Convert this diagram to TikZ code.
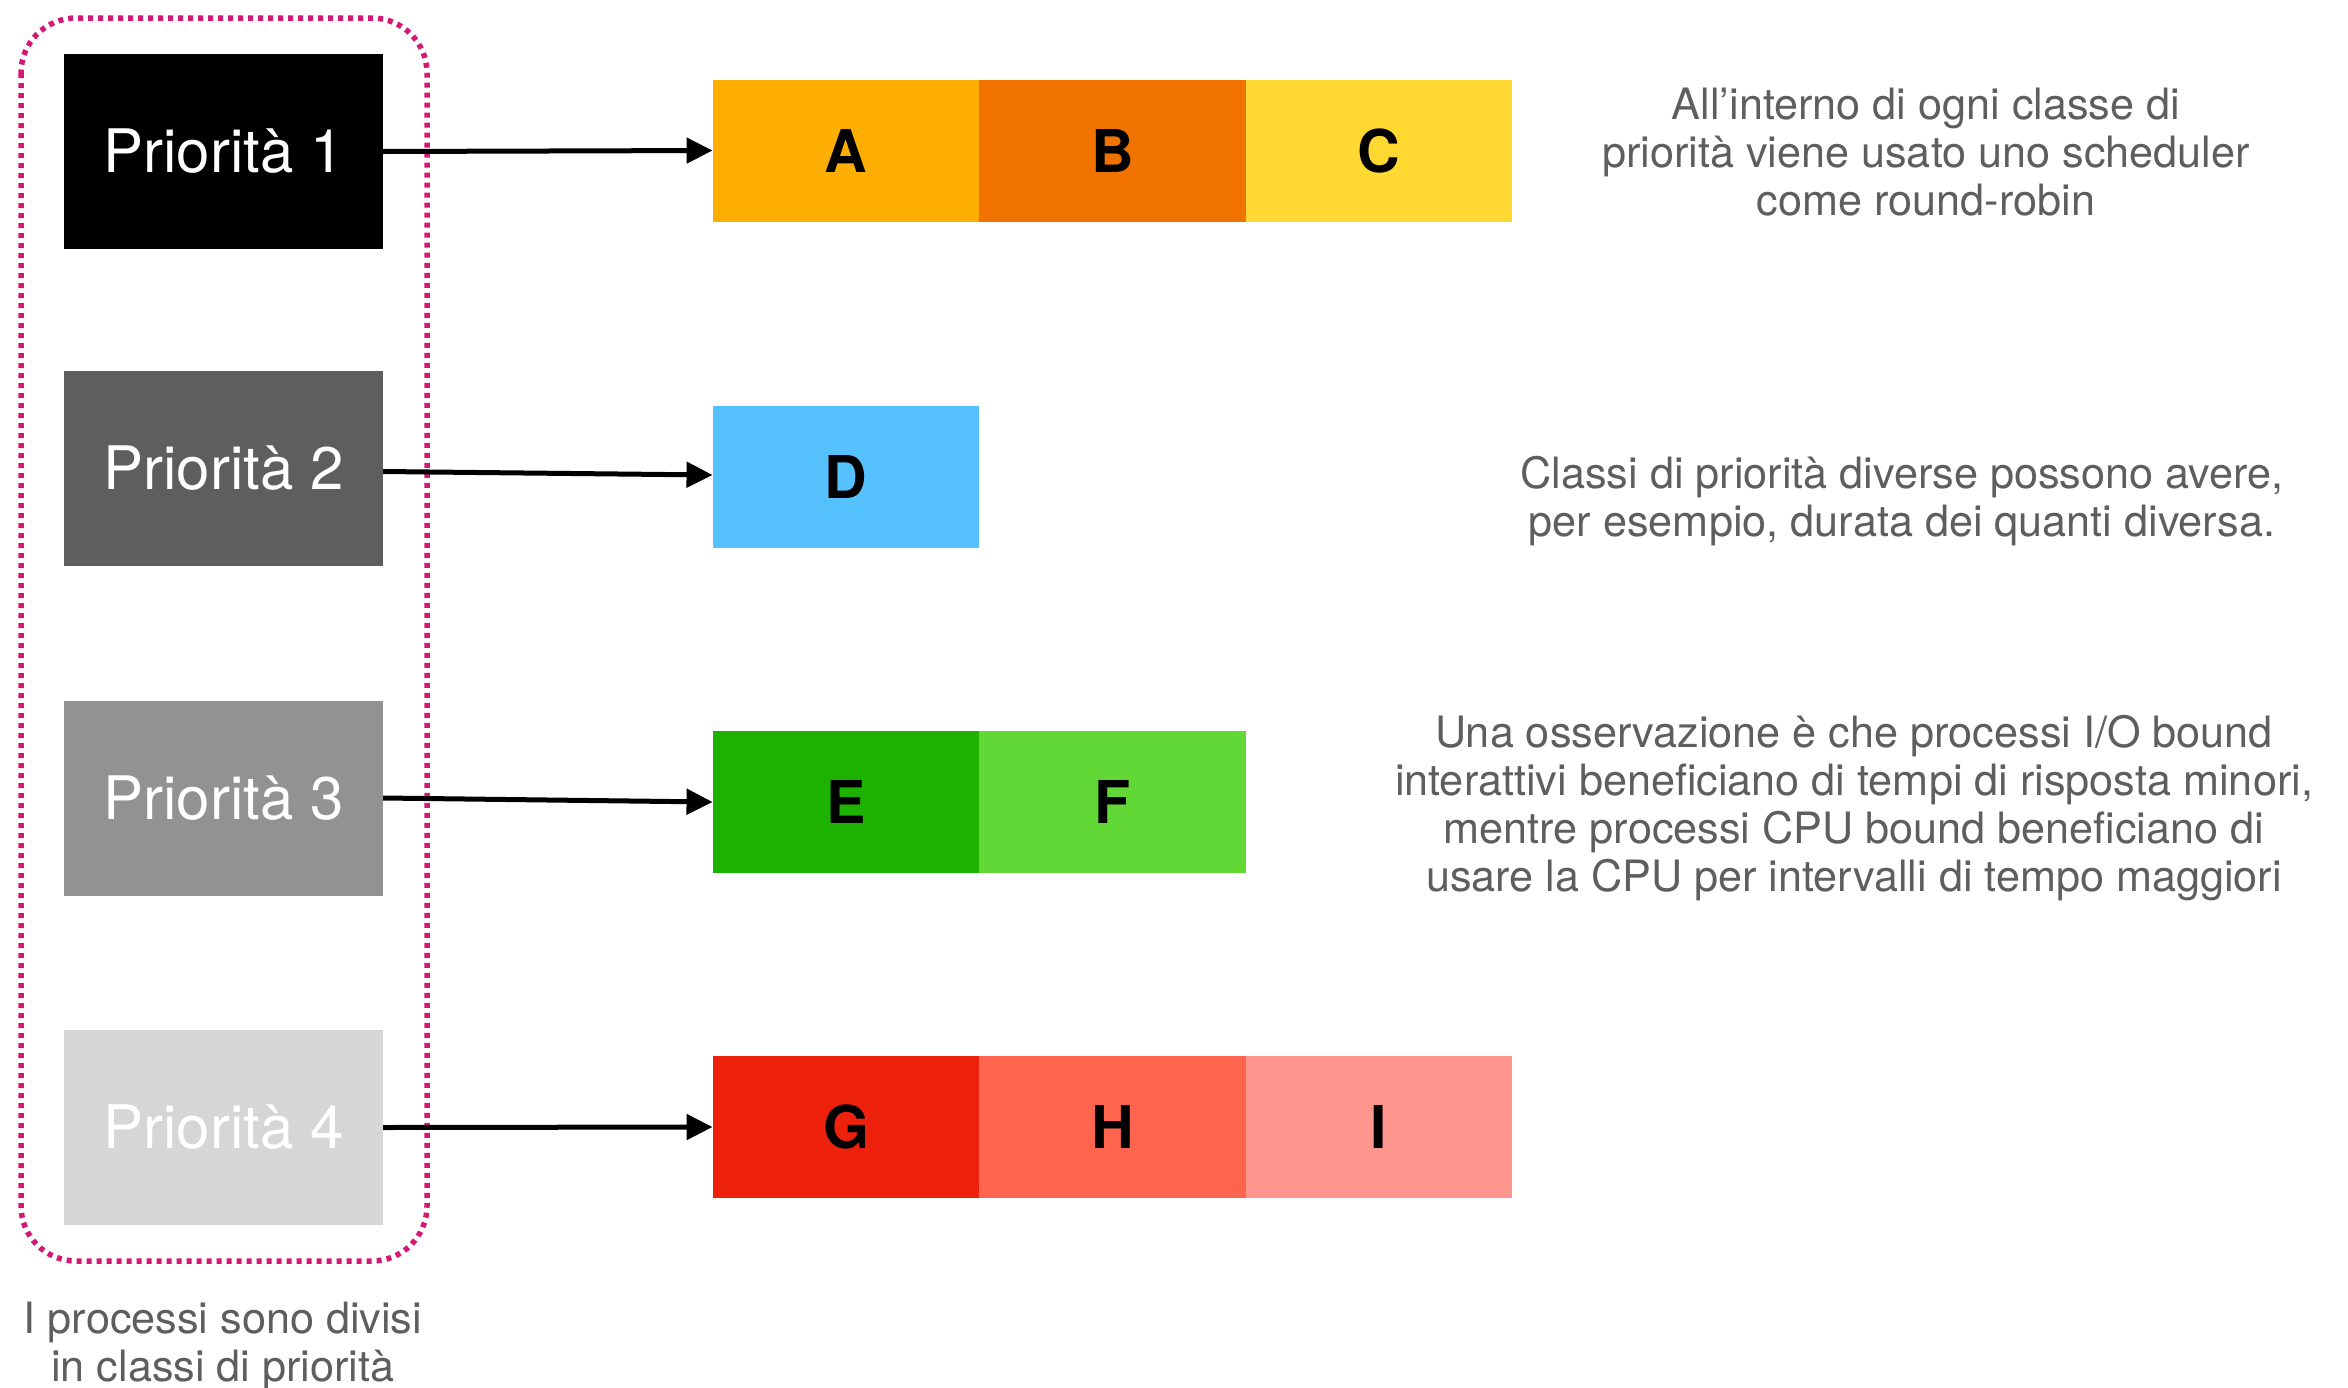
\documentclass[tikz,border=0pt]{standalone}
\usepackage{fontspec}
\setmainfont{TeX Gyre Heros}
\usetikzlibrary{arrows.meta}
\definecolor{pgray}{HTML}{5E5E5E}
\definecolor{pgrayb}{HTML}{929292}
\definecolor{pgrayc}{HTML}{D6D6D6}
\definecolor{cA}{HTML}{FEAE00}
\definecolor{cB}{HTML}{F07300}
\definecolor{cC}{HTML}{FFD831}
\definecolor{cD}{HTML}{56C1FF}
\definecolor{cE}{HTML}{1DB100}
\definecolor{cF}{HTML}{61D836}
\definecolor{cG}{HTML}{EE220C}
\definecolor{cH}{HTML}{FF644E}
\definecolor{cI}{HTML}{FF968D}
\definecolor{magentadot}{HTML}{D41876}
\definecolor{txtgray}{HTML}{5E5E5E}
\tikzset{
  prio/.style={minimum width=319pt, minimum height=195pt, inner sep=0pt, text=white,
    font=\fontsize{60}{63}\selectfont},
  cell/.style={minimum width=266.5pt, minimum height=142pt, inner sep=0pt, text=black,
    font=\fontsize{59}{62}\selectfont\bfseries},
  conn/.style={line width=5pt, -{Triangle[length=26pt,width=25pt]}},
  note/.style={align=center, text=txtgray, inner sep=0pt, font=\fontsize{43.2}{48}\selectfont},
  grp/.style={draw=magentadot, line width=5.5pt, dash pattern=on 5pt off 5pt, rounded corners=55pt}
}
\begin{document}
\begin{tikzpicture}[x=1pt,y=-1pt]
\useasboundingbox (0,0) rectangle (2348,1387);
% group
\draw[grp] (21,18) rectangle (427,1261);
% priority boxes
\node[prio, fill=black] (b1) at (223.5,151.5) {Priorità 1};
\node[prio, fill=pgray] (b2) at (223.5,468.5) {Priorità 2};
\node[prio, fill=pgrayb] (b3) at (223.5,798) {Priorità 3};
\node[prio, fill=pgrayc] (b4) at (223.5,1127.5) {Priorità 4};
% queues
\node[cell, fill=cA] (A) at (846,150.5) {A};
\node[cell, fill=cB] (B) at (1112.5,150.5) {B};
\node[cell, fill=cC] (C) at (1379,150.5) {C};
\node[cell, fill=cD] (D) at (846,477) {D};
\node[cell, fill=cE] (E) at (846,802) {E};
\node[cell, fill=cF] (F) at (1112.5,802) {F};
\node[cell, fill=cG] (G) at (846,1127) {G};
\node[cell, fill=cH] (H) at (1112.5,1127) {H};
\node[cell, fill=cI] (I) at (1379,1127) {I};
% connectors
\draw[conn] (b1.east) -- (A.west);
\draw[conn] ([yshift=-3pt]b2.east) -- ([yshift=2pt]D.west);
\draw[conn] (b3.east) -- (E.west);
\draw[conn] (b4.east) -- (G.west);
% notes
\node[note] (n1) at (1926,152) {All’interno di ogni classe di\\priorità viene usato uno scheduler\\come round-robin};
\node[note] (n2) at (1902,501) {Classi di priorità diverse possono avere,\\per esempio, durata dei quanti diversa.};
\node[note] (n3) at (1854,808) {Una osservazione è che processi I/O bound\\interattivi beneficiano di tempi di risposta minori,\\mentre processi CPU bound beneficiano di\\usare la CPU per intervalli di tempo maggiori};
\node[note] (n4) at (223,1346) {I processi sono divisi\\in classi di priorità};
\end{tikzpicture}
\end{document}
